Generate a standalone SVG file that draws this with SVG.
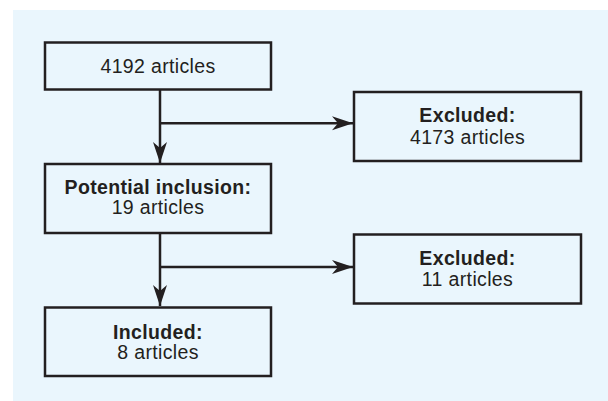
<svg xmlns="http://www.w3.org/2000/svg" width="608" height="401" viewBox="0 0 608 401">
<defs>
<style>
.box{fill:none;stroke:#231f20;stroke-width:2.5}
.t{font-family:"Liberation Sans",Arial,sans-serif;font-size:19.5px;letter-spacing:0.35px;fill:#231f20;text-anchor:middle}
.b{font-weight:bold}
.c{fill:none;stroke:#231f20;stroke-width:2.5}
</style>
<marker id="ah" markerUnits="userSpaceOnUse" markerWidth="22" markerHeight="15" refX="21" refY="7.5" orient="auto">
<path d="M0,0.5 L21,7.5 L0,14.5 L6,7.5 z" fill="#231f20"/>
</marker>
</defs>
<rect x="0" y="0" width="608" height="401" fill="#ffffff"/>
<rect x="13" y="10" width="595" height="391" fill="#eaf6fd"/>
<g id="connectors">
<path class="c" d="M160,89 V163" marker-end="url(#ah)"/>
<path class="c" d="M160,123.3 H353" marker-end="url(#ah)"/>
<path class="c" d="M160,233 V306" marker-end="url(#ah)"/>
<path class="c" d="M160,267 H353" marker-end="url(#ah)"/>
</g>
<g id="n1">
<rect class="box" x="45" y="42.5" width="226" height="47"/>
<text class="t" x="158" y="72.7">4192 articles</text>
</g>
<g id="n2">
<rect class="box" x="354" y="92" width="227" height="69"/>
<text class="t b" x="467.5" y="122.3">Excluded:</text>
<text class="t" x="467.5" y="144">4173 articles</text>
</g>
<g id="n3">
<rect class="box" x="45" y="164" width="226" height="69"/>
<text class="t b" x="158" y="194.3">Potential inclusion:</text>
<text class="t" x="158" y="214.3">19 articles</text>
</g>
<g id="n4">
<rect class="box" x="354" y="234.5" width="227" height="69"/>
<text class="t b" x="467.5" y="265">Excluded:</text>
<text class="t" x="467.5" y="286">11 articles</text>
</g>
<g id="n5">
<rect class="box" x="45" y="307.5" width="226" height="68.5"/>
<text class="t b" x="158" y="338.7">Included:</text>
<text class="t" x="158" y="359.3">8 articles</text>
</g>
</svg>
